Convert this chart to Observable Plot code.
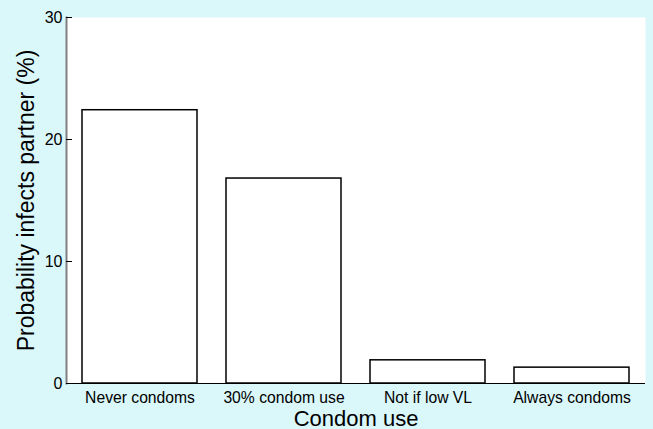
<!DOCTYPE html>
<html>
<head>
<meta charset="utf-8">
<script src="https://cdn.jsdelivr.net/npm/d3@7"></script>
<script src="https://cdn.jsdelivr.net/npm/@observablehq/plot@0.6"></script>
<style>
  html, body { margin: 0; padding: 0; background: #daf7fa; }
</style>
</head>
<body>
<div id="chart"></div>
<script>
const categories = ["Never condoms", "30% condom use", "Not if low VL", "Always condoms"];
const values = [22.4, 16.8, 1.9, 1.3];
const yTicks = [0, 10, 20, 30];
const xTitle = "Condom use";
const yTitle = "Probability infects partner (%)";

const data = categories.map((c, i) => ({category: c, value: values[i]}));

const chart = Plot.plot({
  width: 653,
  height: 429,
  marginTop: 17,
  marginRight: 8,
  marginBottom: 46,
  marginLeft: 66,
  style: {background: "#daf7fa", fontFamily: "'Liberation Sans', Arial, sans-serif", color: "black"},
  x: {type: "band", domain: categories, paddingInner: 0.2, paddingOuter: 0.1, axis: null},
  y: {domain: [0, 30], axis: null},
  marks: [
    Plot.frame({fill: "white", stroke: "none"}),
    Plot.barY(data, {x: "category", y: "value", fill: "white", stroke: "black", strokeWidth: 1.5}),
    Plot.frame({anchor: "left", stroke: "#808080", strokeWidth: 2}),
    Plot.ruleY([0], {stroke: "black", strokeWidth: 1.2}),
    Plot.axisY({ticks: yTicks, tickSize: -6, tickPadding: 10, fontSize: 16, label: null, stroke: "black"}),
    Plot.axisX({tickSize: 0, tickPadding: 8, fontSize: 15.7, label: null}),
    Plot.text([yTitle], {frameAnchor: "left", rotate: -90, dx: -33, lineAnchor: "bottom", textAnchor: "middle", fontSize: 23}),
    Plot.text([xTitle], {frameAnchor: "bottom", dy: 42, lineAnchor: "bottom", textAnchor: "middle", fontSize: 22})
  ]
});
document.getElementById("chart").appendChild(chart);
</script>
</body>
</html>
